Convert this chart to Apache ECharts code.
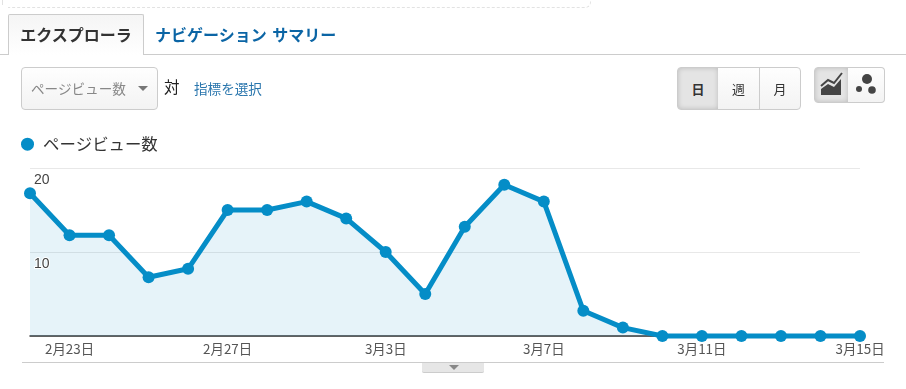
<!DOCTYPE html>
<html>
<head>
<meta charset="utf-8">
<script src="https://cdn.jsdelivr.net/npm/echarts@6/dist/echarts.min.js"></script>
<style>
  html, body { margin: 0; padding: 0; background: #fff; }
  body { width: 906px; height: 389px; position: relative; overflow: hidden;
         font-family: "Noto Sans CJK JP", "Liberation Sans", sans-serif; }
  #chart { position: absolute; left: 0; top: 0; width: 906px; height: 389px; }
  .ui { position: absolute; box-sizing: border-box; white-space: nowrap; }
  .btn { border: 1px solid #ccc; background: linear-gradient(#fefefe, #f3f3f3); text-align: center; color: #333; }
  .on { background: #e4e4e4; box-shadow: inset 0 0 5px rgba(0,0,0,.18); }
</style>
</head>
<body>
<div id="chart"></div>

<!-- page chrome around the chart -->
<div class="ui" style="left:8px;top:-10px;width:583px;height:18px;border-bottom:1px dashed #e2e2e2;border-right:1px dashed #e2e2e2;border-radius:0 0 6px 0"></div>
<div class="ui" style="left:2px;top:0;height:5px;border-left:1px solid #e2e2e2"></div>
<div class="ui" style="left:0;top:54px;width:906px;border-top:1px solid #ccc"></div>
<div class="ui" style="left:8px;top:14px;width:136px;height:41px;border:1px solid #ccc;border-bottom:0;border-radius:2px 2px 0 0;background:linear-gradient(#f5f5f5,#fff);font-size:16px;font-weight:700;color:#333;line-height:38px;text-align:center">エクスプローラ</div>
<div class="ui" style="left:155px;top:14px;height:40px;font-size:16px;font-weight:700;color:#0b65a5;line-height:40px;word-spacing:2px">ナビゲーション サマリー</div>

<div class="ui btn" style="left:21px;top:67px;width:137px;height:43px;border-radius:4px;font-size:13.6px;color:#888;line-height:40px;text-align:left;padding-left:9px">ページビュー数</div>
<div class="ui" style="left:138px;top:86px;width:0;height:0;border:5px solid transparent;border-top:5px solid #777;border-bottom:0"></div>
<div class="ui" style="left:164px;top:75px;font-size:15.5px;color:#222;line-height:22px">対</div>
<div class="ui" style="left:194px;top:77px;font-size:13.6px;color:#2a76ad;line-height:22px">指標を選択</div>

<div class="ui btn on" style="left:677px;top:67px;width:42px;height:43px;border-radius:4px 0 0 4px;font-size:13px;font-weight:700;line-height:41px">日</div>
<div class="ui btn" style="left:718px;top:67px;width:42px;height:43px;border-left:0;font-size:13px;line-height:41px">週</div>
<div class="ui btn" style="left:759px;top:67px;width:42px;height:43px;border-left:1px solid #ccc;border-radius:0 4px 4px 0;font-size:13px;line-height:41px">月</div>

<div class="ui btn on" style="left:814px;top:67px;width:35px;height:36px;border-radius:4px 0 0 4px">
  <svg width="33" height="34" style="display:block"><path d="M6 27V21L13 16L19 19L26 11V27Z" fill="#444"/><path d="M6 18L13 12L19 15L27 5" fill="none" stroke="#444" stroke-width="2"/></svg>
</div>
<div class="ui btn" style="left:848px;top:67px;width:37px;height:36px;border-left:0;border-radius:0 4px 4px 0">
  <svg width="36" height="34" style="display:block"><circle cx="19" cy="11" r="5" fill="#444"/><circle cx="11" cy="21" r="3" fill="#444"/><circle cx="24" cy="22" r="3.8" fill="#444"/></svg>
</div>

<div class="ui" style="left:22px;top:362px;width:862px;border-top:1px solid #ccc"></div>
<div class="ui" style="left:422px;top:363px;width:62px;height:10px;background:#e6e6e6;border-radius:0 0 2px 2px;border-bottom:1px solid #ccc"></div>
<div class="ui" style="left:449px;top:365px;width:0;height:0;border:5px solid transparent;border-top:5px solid #888;border-bottom:0"></div>

<script>
var seriesName = 'ページビュー数';
var categories = ['2月22日','2月23日','2月24日','2月25日','2月26日','2月27日','2月28日','3月1日','3月2日','3月3日','3月4日',
                  '3月5日','3月6日','3月7日','3月8日','3月9日','3月10日','3月11日','3月12日','3月13日','3月14日','3月15日'];
var pageViews = [17,12,12,7,8,15,15,16,14,10,5,13,18,16,3,1,0,0,0,0,0,0];

var myChart = echarts.init(document.getElementById('chart'));

var option = {
  animation: false,
  legend: {
    left: 21,
    top: 136,
    padding: 0,
    itemWidth: 13,
    itemHeight: 13,
    itemGap: 0,
    icon: 'circle',
    textStyle: { fontSize: 16.4, color: '#333', fontFamily: '"Noto Sans CJK JP"', padding: [0, 0, 0, 4] },
    data: [seriesName]
  },
  grid: { left: 30, right: 46, top: 168, bottom: 53 },
  xAxis: {
    type: 'category',
    boundaryGap: false,
    data: categories,
    axisLine: { lineStyle: { color: '#333', width: 1.5 } },
    axisTick: { show: false },
    axisLabel: {
      color: '#555',
      fontSize: 13.4,
      margin: 6,
      fontFamily: '"Noto Sans CJK JP"',
      hideOverlap: false,
      interval: function (index) { return (index - 1) % 4 === 0; }
    }
  },
  yAxis: [
    {
      // grid lines, behind the area
      type: 'value',
      min: 0,
      max: 20,
      interval: 10,
      axisLine: { show: false },
      axisTick: { show: false },
      axisLabel: { show: false },
      splitLine: { lineStyle: { color: '#e8e8e8', width: 1 } }
    },
    {
      // tick labels only, z above the area so "10" stays visible
      type: 'value',
      position: 'left',
      z: 5,
      min: 0,
      max: 20,
      interval: 10,
      axisLine: { show: false },
      axisTick: { show: false },
      splitLine: { show: false },
      axisLabel: {
        inside: true,
        margin: 4,
        color: '#444',
        fontSize: 14,
        fontFamily: '"Liberation Sans"',
        verticalAlign: 'top',
        padding: [5, 0, 0, 0],
        textBorderColor: '#fff',
        textBorderWidth: 2,
        formatter: function (value) { return value === 0 ? '' : value; }
      }
    }
  ],
  series: [
    {
      name: seriesName,
      type: 'line',
      data: pageViews,
      clip: false,
      symbol: 'circle',
      symbolSize: 12,
      showAllSymbol: true,
      itemStyle: { color: '#058dc7' },
      lineStyle: { color: '#058dc7', width: 5 },
      areaStyle: { color: '#058dc7', opacity: 0.1 }
    }
  ]
};

myChart.setOption(option);
</script>
</body>
</html>
